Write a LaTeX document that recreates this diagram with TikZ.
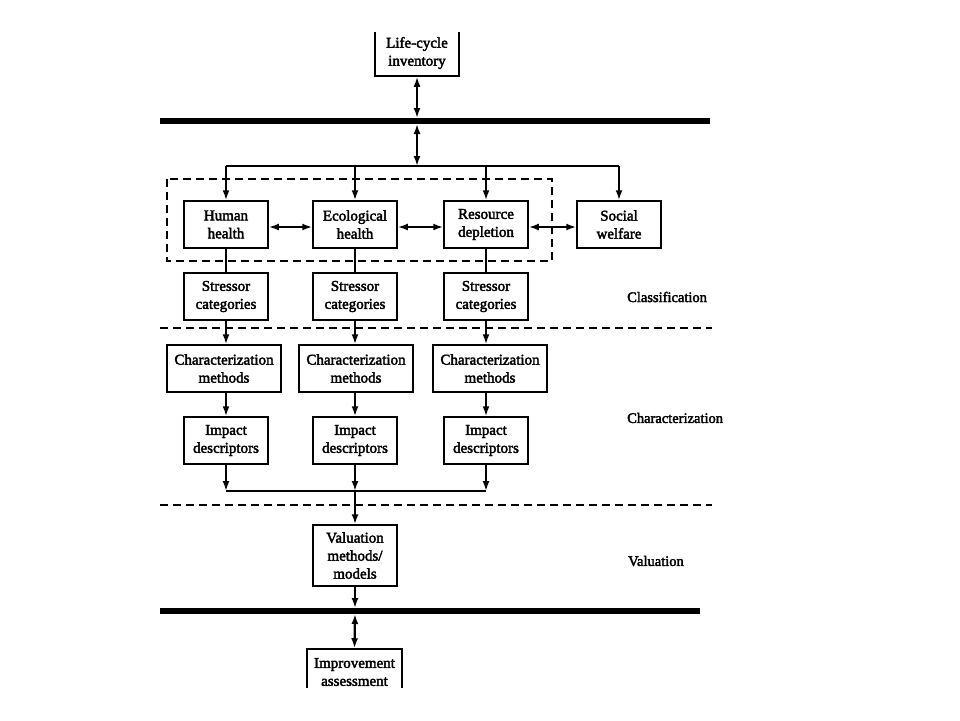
\documentclass[tikz,border=0pt]{standalone}
\usepackage{fontspec}
\setmainfont{Liberation Serif}
\newfontfamily\boxfont[FakeBold=2.5]{Liberation Serif}
\usetikzlibrary{arrows.meta}
\begin{document}
\begin{tikzpicture}[x=1pt,y=-1pt,
  blk/.style={draw,line width=1.5pt,inner sep=0pt,align=center,
    font=\boxfont\fontsize{15}{18}\selectfont,minimum height=47pt},
  narrow/.style={blk,minimum width=84pt},
  wide/.style={blk,minimum width=114pt},
  conn/.style={line width=2.2pt},
  arr/.style={conn,-{Latex[length=10pt,width=7pt]}},
  darr/.style={conn,{Latex[length=10pt,width=7pt]}-{Latex[length=10pt,width=7pt]}},
  thick bar/.style={line width=6pt},
  dash sep/.style={line width=1.5pt,dash pattern=on 8pt off 5pt},
  lbl/.style={anchor=west,inner sep=0pt,font=\boxfont\fontsize{14.5}{17}\selectfont}]
\useasboundingbox (0,0) rectangle (960,720);
\fill[white] (0,0) rectangle (960,720);
\begin{scope}
\clip (0,32) rectangle (960,687);
% boxes
\node[narrow,minimum height=46pt] (life) at (417,53) {Life-cycle\\inventory};
\node[narrow] (hh) at (226,224.5) {Human\\health};
\node[narrow] (eh) at (355,224.5) {Ecological\\health};
\node[narrow] (rd) at (486,224.5) {Resource\\depletion};
\node[narrow] (sw) at (619,224.5) {Social\\welfare};
\node[narrow] (sc1) at (226,296.5) {Stressor\\categories};
\node[narrow] (sc2) at (355,296.5) {Stressor\\categories};
\node[narrow] (sc3) at (486,296.5) {Stressor\\categories};
\node[wide] (cm1) at (224,368.5) {Characterization\\methods};
\node[wide] (cm2) at (356,368.5) {Characterization\\methods};
\node[wide] (cm3) at (490,368.5) {Characterization\\methods};
\node[narrow] (im1) at (226,440.5) {Impact\\descriptors};
\node[narrow] (im2) at (355,440.5) {Impact\\descriptors};
\node[narrow] (im3) at (486,440.5) {Impact\\descriptors};
\node[narrow,minimum height=61pt] (val) at (355,555.5) {Valuation\\methods/\\models};
\node[blk,minimum width=95pt,minimum height=46pt] (imp) at (354.5,672) {Improvement\\assessment};
% labels
\node[lbl] (lcl) at (627,297) {Classification};
\node[lbl] (lch) at (627,418) {Characterization};
\node[lbl] (lva) at (628,561) {Valuation};
% bars and separators
\coordinate (b1l) at (160,121); \coordinate (b1r) at (710,121);
\coordinate (b2l) at (160,611); \coordinate (b2r) at (700,611);
\draw[thick bar] (b1l) -- (b1r);
\draw[thick bar] (b2l) -- (b2r);
\coordinate (d1l) at (160,328); \coordinate (d1r) at (712,328);
\coordinate (d2l) at (160,505); \coordinate (d2r) at (712,505);
\draw[dash sep] (d1l) -- (d1r);
\draw[dash sep] (d2l) -- (d2r);
\coordinate (dr1) at (167,179); \coordinate (dr2) at (552,261);
\draw[dash sep] (dr1) rectangle (dr2);
% top connectors
\coordinate (t1) at (417,118);
\coordinate (t2) at (417,124);
\coordinate (bus) at (417,166);
\draw[darr] (life.south) -- (t1);
\draw[darr] (t2) -- (bus);
\draw[conn] (hh.north |- bus) -- (sw.north |- bus);
\draw[arr] (hh.north |- bus) -- (hh.north);
\draw[arr] (eh.north |- bus) -- (eh.north);
\draw[arr] (rd.north |- bus) -- (rd.north);
\draw[arr] (sw.north |- bus) -- (sw.north);
% row connectors
\draw[darr] (hh.east) ++(0,2.5) coordinate (hhe) -- (hhe -| eh.west);
\draw[darr] (eh.east) ++(0,2.5) coordinate (ehe) -- (ehe -| rd.west);
\draw[darr] (rd.east) ++(0,2.5) coordinate (rde) -- (rde -| sw.west);
\draw[conn] (hh.south) -- (sc1.north);
\draw[conn] (eh.south) -- (sc2.north);
\draw[conn] (rd.south) -- (sc3.north);
\draw[arr] (sc1.south) -- (sc1.south |- cm1.north);
\draw[arr] (sc2.south) -- (sc2.south |- cm2.north);
\draw[arr] (sc3.south) -- (sc3.south |- cm3.north);
\draw[arr] (im1.north |- cm1.south) -- (im1.north);
\draw[arr] (im2.north |- cm2.south) -- (im2.north);
\draw[arr] (im3.north |- cm3.south) -- (im3.north);
\coordinate (bus2) at (355,491);
\draw[arr] (im1.south) -- (im1.south |- bus2);
\draw[arr] (im2.south) -- (im2.south |- bus2);
\draw[arr] (im3.south) -- (im3.south |- bus2);
\draw[conn] (im1.south |- bus2) -- (im3.south |- bus2);
\draw[arr] (bus2) -- (val.north);
\coordinate (t3) at (355,608);
\coordinate (t4) at (355,614);
\draw[arr] (val.south) -- (t3);
\draw[darr] (t4) -- (imp.north);
\end{scope}
\end{tikzpicture}
\end{document}
